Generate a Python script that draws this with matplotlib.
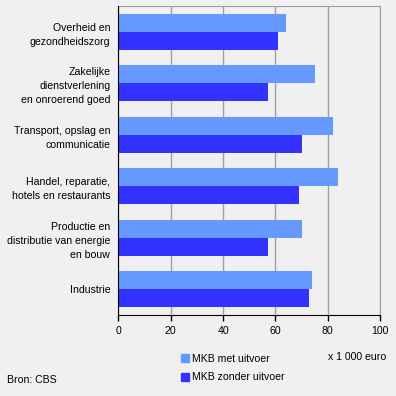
import numpy as np
import matplotlib.pyplot as plt
from matplotlib.patches import Patch

categories = ['Overheid en\ngezondheidszorg',
              'Zakelijke\ndienstverlening\nen onroerend goed',
              'Transport, opslag en\ncommunicatie',
              'Handel, reparatie,\nhotels en restaurants',
              'Productie en\ndistributie van energie\nen bouw',
              'Industrie']
met_uitvoer = [64, 75, 82, 84, 70, 74]
zonder_uitvoer = [61, 57, 70, 69, 57, 73]
xticks = [0, 20, 40, 60, 80, 100]

light = '#6699ff'
dark = '#3333ff'
bg = '#f0f0f0'

plt.rcParams['font.family'] = ['Liberation Sans', 'DejaVu Sans']
plt.rcParams['font.size'] = 7.6

fig = plt.figure(figsize=(3.96, 3.96), dpi=100, facecolor=bg)
ax = fig.add_axes([0.2992, 0.2045, 0.6604, 0.7803], facecolor=bg)

y = np.arange(len(categories))
h = 0.346
ax.barh(y - h/2, met_uitvoer, height=h, color=light, zorder=3)
ax.barh(y + h/2, zonder_uitvoer, height=h, color=dark, zorder=3)

ax.set_ylim(len(categories) - 0.5, -0.5)
ax.set_xlim(0, 100)
ax.set_xticks(xticks)
ax.set_yticks(y)
ax.set_yticklabels(categories, linespacing=1.5)
ax.tick_params(axis='y', length=0, pad=6)
ax.tick_params(axis='x', length=4, width=1, color='black', pad=4)
ax.grid(axis='x', color='#a0a0a0', linewidth=1, zorder=0)

for s in ['top', 'right']:
    ax.spines[s].set_color('#a0a0a0')
for s in ['left', 'bottom']:
    ax.spines[s].set_color('black')
    ax.spines[s].set_zorder(4)

handles = [Patch(color=light, label='MKB met uitvoer'),
           Patch(color=dark, label='MKB zonder uitvoer')]
fig.legend(handles=handles, loc='upper left', bbox_to_anchor=(0.458, 0.106),
           bbox_transform=fig.transFigure, frameon=False,
           handlelength=0.75, handleheight=0.75, handletextpad=0.25,
           labelspacing=0.8, borderpad=0, borderaxespad=0)
fig.text(0.975, 0.098, 'x 1 000 euro', ha='right', va='center')
fig.text(0.018, 0.04, 'Bron: CBS', ha='left', va='center')

fig.savefig('out.png', dpi=100, facecolor=bg)
